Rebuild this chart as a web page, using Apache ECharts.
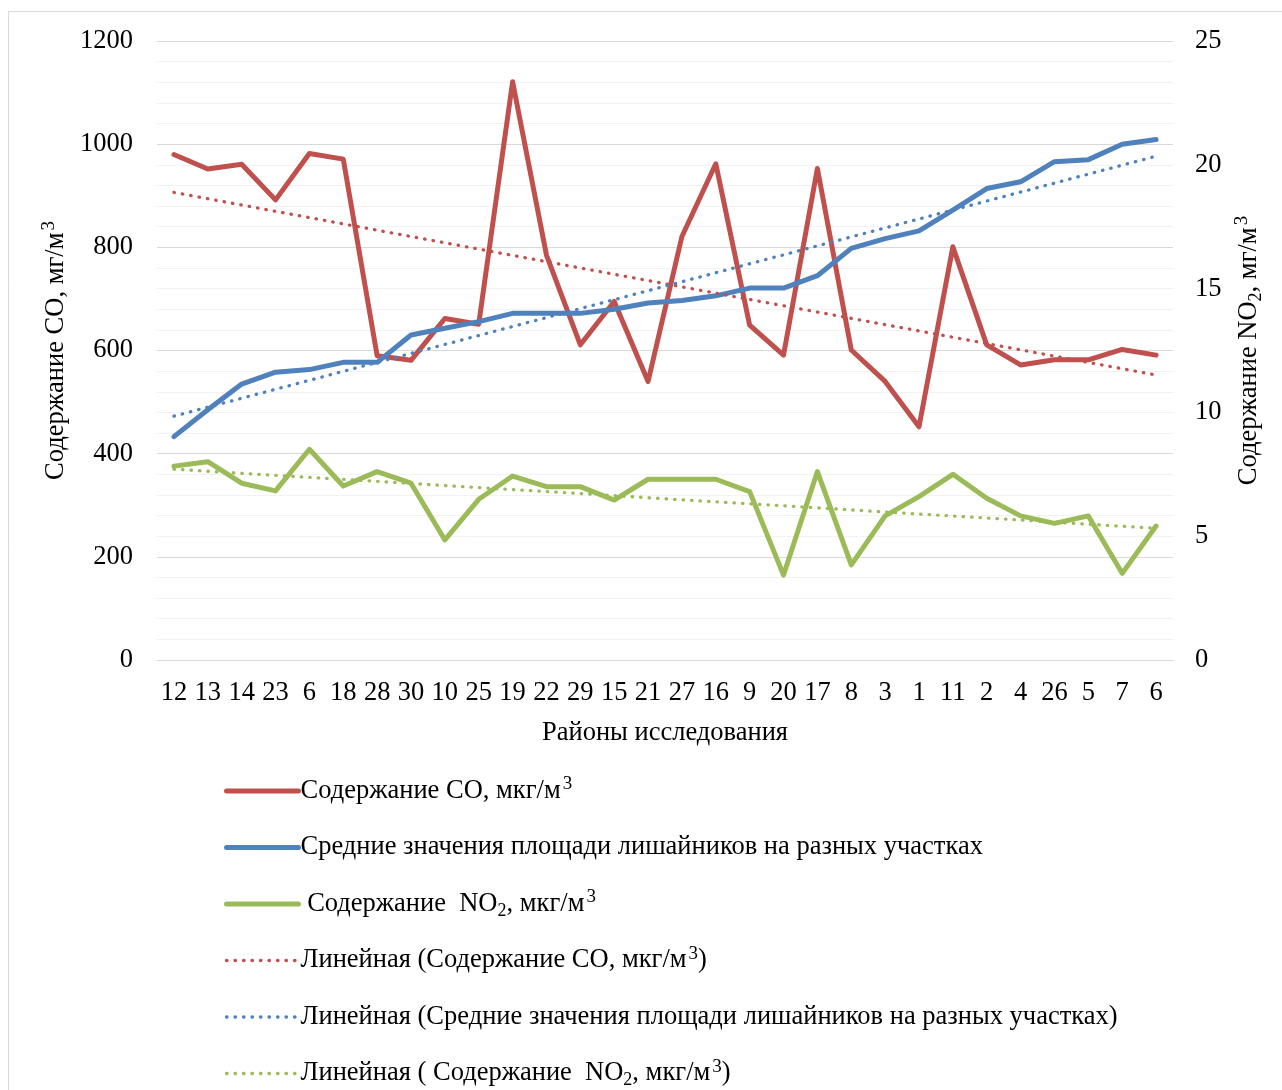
<!DOCTYPE html>
<html>
<head>
<meta charset="utf-8">
<script src="https://cdn.jsdelivr.net/npm/echarts@6/dist/echarts.min.js"></script>
<style>
html,body{margin:0;padding:0;background:#fff;}
#chart{width:1282px;height:1090px;}
</style>
</head>
<body>
<div id="chart"></div>
<script>
// ---- data ----
const categories = ['12','13','14','23','6','18','28','30','10','25','19','22','29','15','21','27','16','9','20','17','8','3','1','11','2','4','26','5','7','6'];
const coValues = [980,952,961,892,982,971,590,581,662,651,1121,785,611,695,540,821,962,649,591,953,601,540,452,801,611,572,582,582,602,591];
const lichenValues = [433,485,535,558,563,577,577,630,643,656,672,672,672,680,692,697,706,721,721,745,798,817,832,872,914,927,966,970,1000,1009];
const no2Values = [7.83,8.01,7.14,6.83,8.51,7.03,7.61,7.14,4.85,6.49,7.43,7.0,7.0,6.46,7.3,7.3,7.3,6.8,3.43,7.61,3.84,5.82,6.6,7.5,6.53,5.82,5.52,5.82,3.5,5.41];
const leftAxisTicks = {min:0, max:1200, interval:200};
const rightAxisTicks = {min:0, max:25, interval:5};

const nameCO = 'Содержание СО, мкг/м3';
const nameLichen = 'Средние значения площади лишайников на разных участках';
const nameNO2 = 'Содержание NO2, мкг/м3';
const nameTrendCO = 'Линейная (Содержание СО, мкг/м3)';
const nameTrendLichen = 'Линейная (Средние значения площади лишайников на разных участках)';
const nameTrendNO2 = 'Линейная ( Содержание NO2, мкг/м3)';

// least-squares linear trend (like Excel "Linear" trendline)
function linearTrend(values){
  const n = values.length;
  let sx=0, sy=0, sxx=0, sxy=0;
  values.forEach((v,i)=>{ const x=i+1; sx+=x; sy+=v; sxx+=x*x; sxy+=x*v; });
  const b = (n*sxy - sx*sy)/(n*sxx - sx*sx);
  const a = (sy - b*sx)/n;
  return values.map((_,i)=> +(a + b*(i+1)).toFixed(4));
}

const FONT = '"Liberation Serif","Times New Roman",serif';
const FS = 26.5;
const RED = '#C0504D', BLUE = '#4F81BD', GREEN = '#9BBB59';

const legendRich = {
  t:{fontSize:FS, lineHeight:32, fontFamily:FONT, color:'#000', verticalAlign:'middle'},
  sup:{fontSize:19, lineHeight:21, fontFamily:FONT, color:'#000', verticalAlign:'top', padding:[0,0,0,2]},
  sub:{fontSize:18, lineHeight:17, fontFamily:FONT, color:'#000', verticalAlign:'bottom'}
};
const legendText = {};
legendText[nameCO] = '{t|Содержание СО, мкг/м}{sup|3}';
legendText[nameLichen] = '{t|Средние значения площади лишайников на разных участках}';
legendText[nameNO2] = '{t| Содержание  NO}{sub|2}{t|, мкг/м}{sup|3}';
legendText[nameTrendCO] = '{t|Линейная (Содержание СО, мкг/м}{sup|3}{t|)}';
legendText[nameTrendLichen] = '{t|Линейная (Средние значения площади лишайников на разных участках)}';
legendText[nameTrendNO2] = '{t|Линейная ( Содержание  NO}{sub|2}{t|, мкг/м}{sup|3}{t|)}';

const solid = (c)=>({color:c, width:5, cap:'round', join:'round'});
const dotted = (c)=>({color:c, width:3.3, type:[0.5,8], cap:'round'});

const chart = echarts.init(document.getElementById('chart'), null, {renderer:'canvas'});
chart.setOption({
  animation:false,
  backgroundColor:'#fff',
  textStyle:{fontFamily:FONT, color:'#000'},
  graphic:[{type:'rect', shape:{x:8.5, y:11.5, width:1300, height:1100}, style:{fill:'none', stroke:'#d9d9d9', lineWidth:1}, silent:true, z:-10}],
  grid:{left:157, right:109, top:41, bottom:430, containLabel:false},
  legend:{
    orient:'vertical', left:224, top:775, height:330, padding:0, itemWidth:72, itemHeight:14, itemGap:24.5,
    itemStyle:{opacity:0},
    data:[
      {name:nameCO, lineStyle:solid(RED)},
      {name:nameLichen, lineStyle:solid(BLUE)},
      {name:nameNO2, lineStyle:solid(GREEN)},
      {name:nameTrendCO, lineStyle:dotted(RED)},
      {name:nameTrendLichen, lineStyle:dotted(BLUE)},
      {name:nameTrendNO2, lineStyle:dotted(GREEN)}
    ],
    formatter:(n)=>legendText[n],
    textStyle:{fontSize:FS, lineHeight:32, fontFamily:FONT, color:'#000', padding:[0,0,0,-3], rich:legendRich}
  },
  xAxis:{
    type:'category', data:categories, boundaryGap:true,
    axisLine:{show:true, lineStyle:{color:'#d9d9d9', width:1}},
    axisTick:{show:false},
    axisLabel:{interval:0, fontSize:FS, color:'#000', fontFamily:FONT, margin:20},
    name:'Районы исследования', nameLocation:'middle', nameGap:60,
    nameTextStyle:{fontSize:FS, color:'#000', fontFamily:FONT}
  },
  yAxis:[{
    type:'value', position:'left', min:leftAxisTicks.min, max:leftAxisTicks.max, interval:leftAxisTicks.interval,
    axisLine:{show:false}, axisTick:{show:false},
    axisLabel:{fontSize:FS, color:'#000', fontFamily:FONT, margin:24, formatter:(v)=>String(v)},
    splitLine:{show:true, lineStyle:{color:'#d9d9d9', width:1}},
    minorTick:{show:false, splitNumber:5},
    minorSplitLine:{show:true, lineStyle:{color:'#f2f2f2', width:1}},
    name:'{t|Содержание СО, мг/м}{sup|3}', nameLocation:'middle', nameGap:79, nameRotate:90,
    nameTextStyle:{fontSize:FS, color:'#000', fontFamily:FONT, rich:legendRich}
  },{
    type:'value', position:'right', min:rightAxisTicks.min, max:rightAxisTicks.max, interval:rightAxisTicks.interval,
    axisLine:{show:false}, axisTick:{show:false},
    axisLabel:{fontSize:FS, color:'#000', fontFamily:FONT, margin:22, formatter:(v)=>String(v)},
    splitLine:{show:false},
    name:'{t|Содержание NO}{sub|2}{t|, мг/м}{sup|3}', nameLocation:'middle', nameGap:60, nameRotate:90,
    nameTextStyle:{fontSize:FS, color:'#000', fontFamily:FONT, rich:legendRich}
  }],
  series:[
    {name:nameCO, type:'line', yAxisIndex:0, data:coValues, symbol:'none', lineStyle:solid(RED), itemStyle:{color:RED}, z:4},
    {name:nameLichen, type:'line', yAxisIndex:0, data:lichenValues, symbol:'none', lineStyle:solid(BLUE), itemStyle:{color:BLUE}, z:4},
    {name:nameNO2, type:'line', yAxisIndex:1, data:no2Values, symbol:'none', lineStyle:solid(GREEN), itemStyle:{color:GREEN}, z:4},
    {name:nameTrendCO, type:'line', yAxisIndex:0, data:linearTrend(coValues), symbol:'none', lineStyle:dotted(RED), itemStyle:{color:RED}, z:5},
    {name:nameTrendLichen, type:'line', yAxisIndex:0, data:linearTrend(lichenValues), symbol:'none', lineStyle:dotted(BLUE), itemStyle:{color:BLUE}, z:5},
    {name:nameTrendNO2, type:'line', yAxisIndex:1, data:linearTrend(no2Values), symbol:'none', lineStyle:dotted(GREEN), itemStyle:{color:GREEN}, z:5}
  ]
});
</script>
</body>
</html>
